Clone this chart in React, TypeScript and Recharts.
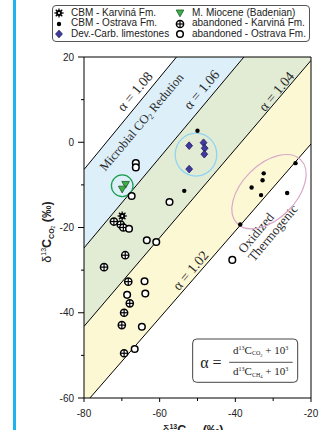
import React from 'react';
import {
  ComposedChart, XAxis, YAxis, Area, Line, Scatter,
  ReferenceLine, ReferenceDot, Legend,
} from 'recharts';

// ---------------- data ----------------
const xTicks = [-80, -70, -60, -50, -40, -30, -20];
const yTicks = [-60, -50, -40, -30, -20, -10, 0, 10, 20];

// fractionation lines (delta13C-CO2 at delta13C-CH4 = -80 and -20)
const lineX = [-80, -20];
const alpha108 = [-6.4, 58.4];
const alpha106 = [-24.8, 38.8];
const alpha104 = [-43.2, 19.2];
const alpha102 = [-61.6, -0.4];

const cbmKarvina = [{ x: -69.9, y: -17.3 }];
const cbmOstrava = [
  { x: -50.0, y: 2.7 }, { x: -53.5, y: -11.4 }, { x: -24.1, y: -4.9 },
  { x: -32.5, y: -7.3 }, { x: -32.8, y: -8.9 }, { x: -35.7, y: -10.6 },
  { x: -33.2, y: -12.4 }, { x: -26.3, y: -11.9 }, { x: -38.7, y: -19.3 },
];
const devCarb = [
  { x: -52.2, y: -0.8 }, { x: -48.4, y: -0.1 }, { x: -48.1, y: -1.4 },
  { x: -48.2, y: -2.8 }, { x: -52.2, y: -6.3 },
];
const mMiocene = [{ x: -69.0, y: -9.9 }, { x: -69.9, y: -11.0 }];
const abandonedKarvina = [
  { x: -72.1, y: -18.6 }, { x: -70.3, y: -19.3 }, { x: -69.6, y: -20.0 },
  { x: -69.1, y: -26.5 }, { x: -74.7, y: -29.3 }, { x: -68.3, y: -32.7 },
  { x: -67.9, y: -37.8 }, { x: -69.4, y: -40.0 }, { x: -70.0, y: -42.9 },
  { x: -69.4, y: -49.5 },
];
const abandonedOstrava = [
  { x: -66.3, y: -4.9 }, { x: -66.3, y: -5.9 }, { x: -67.4, y: -12.6 },
  { x: -57.4, y: -14.0 }, { x: -68.1, y: -20.3 }, { x: -63.4, y: -23.0 },
  { x: -60.9, y: -23.4 }, { x: -40.8, y: -27.6 }, { x: -64.0, y: -32.6 },
  { x: -63.8, y: -35.5 }, { x: -68.6, y: -35.8 }, { x: -64.7, y: -43.3 },
  { x: -66.6, y: -48.5 },
];

const alphaLabels = ['α = 1.08', 'α = 1.06', 'α = 1.04', 'α = 1.02'];
const alphaLabelPos = [
  { x: -66.5, y: 11.9 }, { x: -48.9, y: 12.3 }, { x: -29.1, y: 11.9 }, { x: -51.8, y: -30.1 },
];

const bandData = lineX.map((x, i) => ({
  x,
  a108: alpha108[i], a106: alpha106[i], a104: alpha104[i], a102: alpha102[i],
  blue: [alpha106[i], alpha108[i]],
  green: [alpha104[i], alpha106[i]],
  yellow: [alpha102[i], alpha104[i]],
}));

// ---------------- styles ----------------
const SANS = 'Liberation Sans, Arial, sans-serif';
const SERIF = 'Liberation Serif, Times New Roman, serif';
const ROT = -50;

// ---------------- marker shapes ----------------
const StarMark = ({ cx, cy }: any) => (
  <g>
    {[0, 45, 90, 135].map((a) => {
      const r = (a * Math.PI) / 180;
      return (
        <line key={a} x1={cx - 4.6 * Math.cos(r)} y1={cy - 4.6 * Math.sin(r)}
          x2={cx + 4.6 * Math.cos(r)} y2={cy + 4.6 * Math.sin(r)} stroke="#000" strokeWidth={1.3} />
      );
    })}
    <circle cx={cx} cy={cy} r={2.9} fill="#000" />
    <circle cx={cx} cy={cy} r={1.1} fill="#fff" />
  </g>
);
const DotMark = ({ cx, cy }: any) => <circle cx={cx} cy={cy} r={2.2} fill="#000" />;
const DiamondMark = ({ cx, cy }: any) => (
  <polygon points={`${cx},${cy - 3.8} ${cx + 3.4},${cy} ${cx},${cy + 3.8} ${cx - 3.4},${cy}`}
    fill="#3f3a9c" stroke="#1d1860" strokeWidth={0.8} />
);
const TriangleMark = ({ cx, cy }: any) => (
  <polygon points={`${cx - 3.8},${cy - 3} ${cx + 3.8},${cy - 3} ${cx},${cy + 3.8}`}
    fill="#3dae4a" stroke="#1e5a26" strokeWidth={0.8} />
);
const CrossCircleMark = ({ cx, cy }: any) => (
  <g>
    <circle cx={cx} cy={cy} r={3.6} fill="#fff" stroke="#000" strokeWidth={1.5} />
    <line x1={cx - 3.6} x2={cx + 3.6} y1={cy} y2={cy} stroke="#000" strokeWidth={1.2} />
    <line x1={cx} x2={cx} y1={cy - 3.6} y2={cy + 3.6} stroke="#000" strokeWidth={1.2} />
  </g>
);
const OpenCircleMark = ({ cx, cy }: any) => (
  <circle cx={cx} cy={cy} r={3.3} fill="#fff" stroke="#000" strokeWidth={1.5} />
);

const legendCols = [
  [
    { name: 'CBM - Karviná Fm.', Mark: StarMark },
    { name: 'CBM - Ostrava Fm.', Mark: DotMark },
    { name: 'Dev.-Carb. limestones', Mark: DiamondMark },
  ],
  [
    { name: 'M. Miocene (Badenian)', Mark: TriangleMark },
    { name: 'abandoned - Karviná Fm.', Mark: CrossCircleMark },
    { name: 'abandoned - Ostrava Fm.', Mark: OpenCircleMark },
  ],
];

const LegendBox = () => (
  <div style={{
    width: 258, height: 37, boxSizing: 'border-box', border: '1px solid #555', borderRadius: 4,
    background: '#fff', position: 'relative', fontFamily: SANS, fontSize: 10, color: '#222',
  }}>
    {legendCols.map((col, ci) => col.map((it, ri) => {
      const rowY = 7.3 + ri * 10.5;
      const symX = ci === 0 ? 6.3 : 127;
      const textX = ci === 0 ? 18 : 139;
      const M = it.Mark;
      return (
        <React.Fragment key={it.name}>
          <svg width={12} height={12} style={{ position: 'absolute', left: symX - 6, top: rowY - 6 }}>
            <M cx={6} cy={6} />
          </svg>
          <span style={{ position: 'absolute', left: textX, top: rowY - 6.5, lineHeight: '12px', whiteSpace: 'nowrap' }}>
            {it.name}
          </span>
        </React.Fragment>
      );
    }))}
  </div>
);

// ---------------- ticks ----------------
const XTick = (props: any) => {
  const { x, y, payload } = props;
  const v = payload.value;
  const major = v % 20 === 0;
  return (
    <g>
      <line x1={x} x2={x} y1={y} y2={y + (major ? 4 : 3)} stroke="#000" />
      {major && (
        <text x={x} y={y + 19} textAnchor="middle" fontSize={10} fill="#222" fontFamily={SANS}>{v}</text>
      )}
    </g>
  );
};
const YTick = (props: any) => {
  const { x, y, payload } = props;
  const v = payload.value;
  const major = v % 20 === 0;
  return (
    <g>
      <line x1={x} x2={x - (major ? 6 : 3)} y1={y} y2={y} stroke="#000" />
      {major && (
        <text x={x - 10} y={y + 3.6} textAnchor="end" fontSize={10} fill="#222" fontFamily={SANS}>{v}</text>
      )}
    </g>
  );
};

const YTitle = () => (
  <text transform="translate(51,232) rotate(-90)" textAnchor="middle" fontSize={12.5} fill="#222" fontFamily={SANS}>
    <tspan>δ</tspan>
    <tspan fontSize={7} dy={-5}>13</tspan>
    <tspan fontWeight="bold" dy={5}>C</tspan>
    <tspan fontSize={7} dy={3} fontWeight="bold">CO</tspan>
    <tspan fontSize={5} dy={1}>2</tspan>
    <tspan dy={-4} fontWeight="bold"> (‰)</tspan>
  </text>
);
const XTitle = () => (
  <text x={193} y={434} textAnchor="middle" fontSize={12.5} fill="#222" fontFamily={SANS}>
    <tspan>δ</tspan>
    <tspan fontSize={7} dy={-5} fontWeight="bold">13</tspan>
    <tspan fontWeight="bold" dy={5}>C</tspan>
    <tspan fontSize={7} dy={3} fontWeight="bold">CH</tspan>
    <tspan fontSize={5} dy={1}>4</tspan>
    <tspan dy={-4} fontWeight="bold"> (‰)</tspan>
  </text>
);

// ---------------- annotation shapes ----------------
const rotLabel = (content: React.ReactNode, size: number) => (p: any) => (
  <text transform={`translate(${p.cx},${p.cy}) rotate(${ROT})`} textAnchor="middle" dominantBaseline="central"
    fontSize={size} fill="#2b2b2b" fontFamily={SERIF}>{content}</text>
);

const Formula = (p: any) => {
  const { cx, cy } = p;
  return (
    <g fontFamily={SERIF} fill="#222">
      <rect x={cx - 52.5} y={cy - 21.7} width={105} height={43.3} rx={4} fill="#fff" stroke="#444" strokeWidth={1} />
      <text x={cx - 45} y={cy + 7} fontSize={16}>α =</text>
      <line x1={cx - 16} x2={cx + 47.5} y1={cy + 1.6} y2={cy + 1.6} stroke="#222" strokeWidth={0.8} />
      <text x={cx + 15.5} y={cy - 7.2} fontSize={11} textAnchor="middle">
        <tspan>d</tspan><tspan fontSize={6} dy={-4}>13</tspan><tspan dy={4}>C</tspan>
        <tspan fontSize={6} dy={1.5}>CO</tspan><tspan fontSize={4.5} dy={1.5}>2</tspan>
        <tspan dy={-3}> + 10</tspan><tspan fontSize={6} dy={-4}>3</tspan>
      </text>
      <text x={cx + 15.5} y={cy + 14.3} fontSize={11} textAnchor="middle">
        <tspan>d</tspan><tspan fontSize={6} dy={-4}>13</tspan><tspan dy={4}>C</tspan>
        <tspan fontSize={6} dy={1.5}>CH</tspan><tspan fontSize={4.5} dy={1.5}>4</tspan>
        <tspan dy={-3}> + 10</tspan><tspan fontSize={6} dy={-4}>3</tspan>
      </text>
    </g>
  );
};

export default function App() {
  return (
    <div style={{ position: 'absolute', left: 0, top: 0, width: 324, height: 430, background: '#fff', fontFamily: SANS }}>
      <div style={{ position: 'absolute', left: 13, top: 0, width: 3, height: 430, background: '#1eb2ee' }} />
      <ComposedChart width={324} height={430} data={bandData}
        margin={{ top: 57, right: 13, bottom: 0, left: 0 }}>
        <XAxis type="number" dataKey="x" domain={[-80, -20]} ticks={xTicks} interval={0}
          allowDataOverflow tickLine={false} tickSize={0} tickMargin={0} tick={<XTick />}
          height={32} axisLine={{ stroke: '#000' }} label={<XTitle />} />
        <YAxis type="number" dataKey="y" domain={[-60, 20]} ticks={yTicks} interval={0}
          allowDataOverflow tickLine={false} tickSize={0} tickMargin={0} tick={<YTick />}
          width={84} axisLine={{ stroke: '#000' }} label={<YTitle />} />
        <Legend layout="vertical" verticalAlign="middle" align="center"
          wrapperStyle={{ top: 5, left: 52, width: 258, height: 37 }} content={() => <LegendBox />} />

        <Area type="linear" dataKey="blue" fill="#ddf0fa" fillOpacity={1} stroke="none" isAnimationActive={false} legendType="none" />
        <Area type="linear" dataKey="green" fill="#e2ecd5" fillOpacity={1} stroke="none" isAnimationActive={false} legendType="none" />
        <Area type="linear" dataKey="yellow" fill="#fdf8d4" fillOpacity={1} stroke="none" isAnimationActive={false} legendType="none" />
        <Line type="linear" dataKey="a108" stroke="#000" strokeWidth={1} dot={false} isAnimationActive={false} legendType="none" />
        <Line type="linear" dataKey="a106" stroke="#000" strokeWidth={1} dot={false} isAnimationActive={false} legendType="none" />
        <Line type="linear" dataKey="a104" stroke="#000" strokeWidth={1} dot={false} isAnimationActive={false} legendType="none" />
        <Line type="linear" dataKey="a102" stroke="#000" strokeWidth={1} dot={false} isAnimationActive={false} legendType="none" />
        <ReferenceLine y={20} stroke="#000" strokeWidth={1} />
        <ReferenceLine x={-20} stroke="#000" strokeWidth={1} />

        {alphaLabels.map((t, i) => (
          <ReferenceDot key={t} x={alphaLabelPos[i].x} y={alphaLabelPos[i].y} r={1} shape={rotLabel(t, 14)} />
        ))}
        <ReferenceDot x={-64.75} y={4.7} r={1} shape={rotLabel(
          <>Microbial CO<tspan fontSize={8} dy={3}>2</tspan><tspan dy={-3}> Redution</tspan></>, 12.5)} />
        <ReferenceDot x={-37.7} y={-26.2} r={1} shape={(p: any) => (
          <text transform={`translate(${p.cx},${p.cy}) rotate(${ROT})`} fontSize={13} fill="#2b2b2b" fontFamily={SERIF}>
            <tspan x={0} y={0}>Oxidized</tspan>
            <tspan x={0} y={13}>Thermogenic</tspan>
          </text>
        )} />
        <ReferenceDot x={-69.9} y={-10.2} r={1} shape={(p: any) => (
          <circle cx={p.cx} cy={p.cy} r={10.8} fill="none" stroke="#1a9e4e" strokeWidth={1.3} />
        )} />
        <ReferenceDot x={-50.4} y={-2.9} r={1} shape={(p: any) => (
          <ellipse cx={p.cx} cy={p.cy} rx={20.8} ry={21.5} fill="none" stroke="#8fd4f2" strokeWidth={1.3} />
        )} />
        <ReferenceDot x={-31.1} y={-11.6} r={1} shape={(p: any) => (
          <ellipse cx={p.cx} cy={p.cy} rx={45} ry={27} transform={`rotate(-45 ${p.cx} ${p.cy})`}
            fill="none" stroke="#d8a8c8" strokeWidth={1.2} />
        )} />
        <ReferenceDot x={-37.4} y={-51.25} r={1} shape={Formula} />

        <Scatter name="CBM - Karviná Fm." data={cbmKarvina} dataKey="y" isAnimationActive={false} shape={(p: any) => <StarMark cx={p.cx} cy={p.cy} />} />
        <Scatter name="CBM - Ostrava Fm." data={cbmOstrava} dataKey="y" isAnimationActive={false} shape={(p: any) => <DotMark cx={p.cx} cy={p.cy} />} />
        <Scatter name="Dev.-Carb. limestones" data={devCarb} dataKey="y" isAnimationActive={false} shape={(p: any) => <DiamondMark cx={p.cx} cy={p.cy} />} />
        <Scatter name="M. Miocene (Badenian)" data={mMiocene} dataKey="y" isAnimationActive={false} shape={(p: any) => <TriangleMark cx={p.cx} cy={p.cy} />} />
        <Scatter name="abandoned - Karviná Fm." data={abandonedKarvina} dataKey="y" isAnimationActive={false} shape={(p: any) => <CrossCircleMark cx={p.cx} cy={p.cy} />} />
        <Scatter name="abandoned - Ostrava Fm." data={abandonedOstrava} dataKey="y" isAnimationActive={false} shape={(p: any) => <OpenCircleMark cx={p.cx} cy={p.cy} />} />
      </ComposedChart>
    </div>
  );
}
